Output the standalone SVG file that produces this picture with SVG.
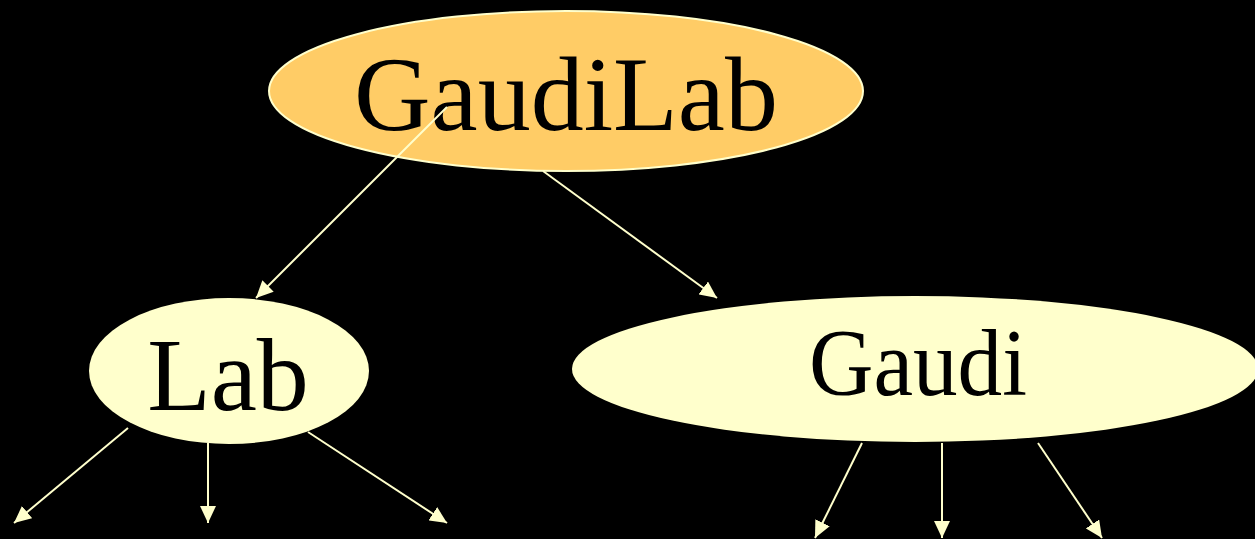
<svg xmlns="http://www.w3.org/2000/svg" width="1255" height="539" viewBox="0 0 1255 539">
<style>
.bg{fill:#000000}
.lbl{font-family:"Liberation Serif","Times New Roman",serif;fill:#000000;text-anchor:middle}
.edge{stroke:#FFFFCC;stroke-width:2;fill:none;marker-end:url(#arr)}
.leaf{fill:#FFFFCC;stroke:none}
</style>
<defs>
<marker id="arr" markerUnits="userSpaceOnUse" markerWidth="18" markerHeight="16" viewBox="0 0 18 16" refX="17" refY="8" orient="auto">
<path d="M0,0 L17,8 L0,16 Z" fill="#FFFFCC"/>
</marker>
</defs>
<rect class="bg" x="0" y="0" width="1255" height="539"/>
<g id="node-gaudilab">
<ellipse cx="566" cy="91" rx="297" ry="80" fill="#FFCC66" stroke="#FFFFCC" stroke-width="2"/>
<text class="lbl" x="566" y="130" font-size="106">GaudiLab</text>
</g>
<g id="node-lab">
<ellipse class="leaf" cx="229" cy="371" rx="140" ry="73"/>
<text class="lbl" x="228" y="410" font-size="104">Lab</text>
</g>
<g id="node-gaudi">
<ellipse class="leaf" cx="915" cy="369" rx="343" ry="73"/>
<text class="lbl" x="918" y="395" font-size="95" textLength="218" lengthAdjust="spacingAndGlyphs">Gaudi</text>
</g>
<g id="connectors">
<line class="edge" x1="447" y1="107" x2="256" y2="298"/>
<line class="edge" x1="543" y1="171" x2="717" y2="298"/>
<line class="edge" x1="128" y1="428" x2="14" y2="523"/>
<line class="edge" x1="208" y1="443" x2="208" y2="523"/>
<line class="edge" x1="308" y1="432" x2="447" y2="523"/>
<line class="edge" x1="862" y1="443" x2="815" y2="538"/>
<line class="edge" x1="942" y1="443" x2="942" y2="538"/>
<line class="edge" x1="1038" y1="443" x2="1102" y2="538"/>
</g>
</svg>
